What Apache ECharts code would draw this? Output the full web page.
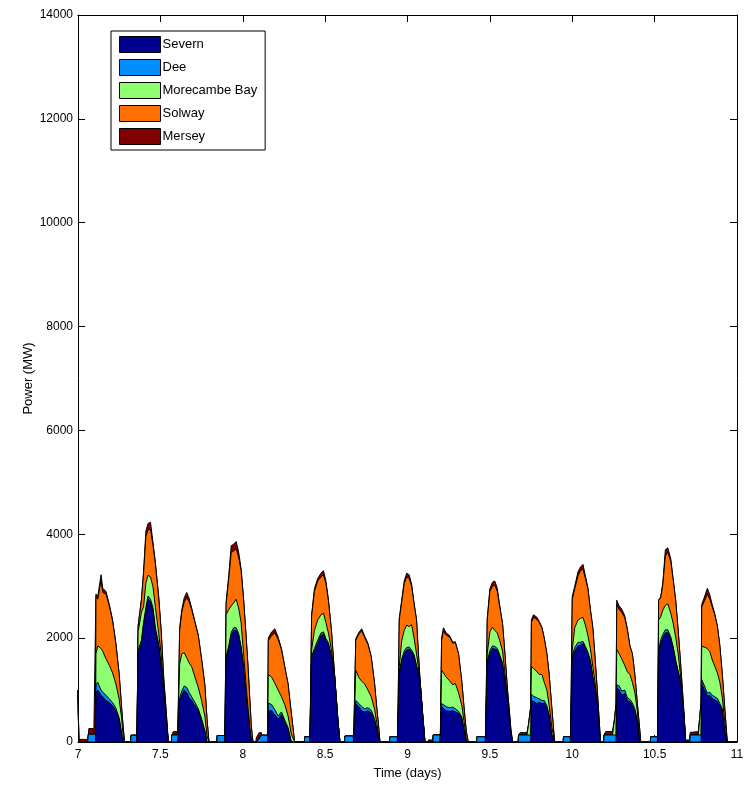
<!DOCTYPE html>
<html>
<head>
<meta charset="utf-8">
<title>Tidal power by site</title>
<script src="https://cdn.jsdelivr.net/npm/echarts@6/dist/echarts.min.js"></script>
<style>
  html, body { margin: 0; padding: 0; background: #ffffff; }
  #chart { width: 746px; height: 787px; }
</style>
</head>
<body>
<div id="chart"></div>
<script>
// Time of each sample, in days. One line per block: the small
// pre-generation bump, then the generation pulse that follows it.
const time = [
  7.000, 7.005, 7.010, 7.058, 7.062, 7.063, 7.066, 7.092, 7.096, 7.106,
  7.109, 7.120, 7.140, 7.150, 7.170, 7.190, 7.210, 7.230, 7.250, 7.265, 7.275, 7.283,
  7.320, 7.322, 7.356, 7.358,
  7.365, 7.372, 7.385, 7.398, 7.412, 7.425, 7.440, 7.455, 7.470, 7.490, 7.505, 7.520, 7.535, 7.548,
  7.567, 7.569, 7.579, 7.605, 7.607, 7.614,
  7.617, 7.630, 7.645, 7.660, 7.675, 7.690, 7.710, 7.730, 7.750, 7.770, 7.783, 7.795,
  7.843, 7.845, 7.890, 7.892, 7.896,
  7.899, 7.915, 7.930, 7.945, 7.960, 7.975, 7.990, 8.005, 8.020, 8.032, 8.042, 8.052, 8.062,
  8.080, 8.082, 8.100, 8.113, 8.115, 8.151,
  8.155, 8.175, 8.195, 8.215, 8.235, 8.255, 8.275, 8.295, 8.315,
  8.374, 8.376, 8.406, 8.408, 8.414,
  8.418, 8.435, 8.455, 8.475, 8.490, 8.505, 8.520, 8.538, 8.558, 8.578, 8.590,
  8.618, 8.620, 8.671, 8.673, 8.682,
  8.686, 8.705, 8.722, 8.740, 8.760, 8.780, 8.800, 8.813, 8.823, 8.833,
  8.891, 8.893, 8.938, 8.940, 8.946,
  8.950, 8.965, 8.980, 8.995, 9.010, 9.025, 9.040, 9.055, 9.065, 9.076, 9.090, 9.106,
  9.125, 9.127, 9.154, 9.156, 9.197, 9.199, 9.203,
  9.207, 9.218, 9.235, 9.255, 9.275, 9.290, 9.310, 9.330, 9.345, 9.357, 9.369,
  9.419, 9.421, 9.472, 9.474, 9.480,
  9.484, 9.500, 9.516, 9.530, 9.545, 9.560, 9.577, 9.592, 9.607, 9.618, 9.628, 9.638,
  9.672, 9.674, 9.684, 9.725, 9.735, 9.748,
  9.752, 9.765, 9.786, 9.800, 9.816, 9.830, 9.846, 9.860, 9.875, 9.893,
  9.945, 9.947, 9.988, 9.990, 9.996,
  10.000, 10.015, 10.035, 10.050, 10.065, 10.080, 10.095, 10.110, 10.125, 10.140, 10.155, 10.165, 10.172,
  10.191, 10.193, 10.203, 10.244, 10.255, 10.266,
  10.270, 10.285, 10.300, 10.318, 10.335, 10.350, 10.365, 10.380, 10.395, 10.408, 10.416,
  10.474, 10.476, 10.517, 10.519,
  10.524, 10.537, 10.550, 10.565, 10.580, 10.598, 10.613, 10.628, 10.643, 10.658, 10.673, 10.689,
  10.693, 10.695, 10.713, 10.716, 10.765, 10.772, 10.782,
  10.786, 10.800, 10.820, 10.835, 10.850, 10.865, 10.881, 10.896, 10.911, 10.925, 10.941, 11.000
];

// Power from each site, MW
const severn = [
  900, 0, 0, 0, 0, 0, 0, 0, 0, 0,
  950, 1000, 900, 870, 800, 760, 700, 600, 430, 150, 0, 0,
  0, 0, 0, 0,
  1700, 1770, 1900, 2250, 2540, 2760, 2700, 2540, 2150, 1850, 1450, 1000, 450, 0,
  0, 0, 0, 0, 0, 0,
  800, 900, 1000, 950, 850, 800, 700, 600, 420, 200, 0, 0,
  0, 0, 0, 0, 0,
  1600, 1800, 2050, 2150, 2150, 2050, 1800, 1450, 900, 550, 250, 0, 0,
  0, 0, 0, 0, 0, 0,
  600, 600, 520, 440, 530, 380, 250, 0, 0,
  0, 0, 0, 0, 0,
  1600, 1750, 1900, 2050, 2080, 1950, 1880, 1640, 1250, 400, 0,
  0, 0, 0, 0, 0,
  740, 680, 600, 580, 600, 560, 420, 250, 100, 0,
  0, 0, 0, 0, 0,
  1300, 1550, 1700, 1770, 1790, 1730, 1650, 1450, 1350, 1180, 600, 0,
  0, 0, 0, 0, 0, 0, 0,
  680, 650, 600, 590, 600, 580, 550, 450, 200, 0, 0,
  0, 0, 0, 0, 0,
  1500, 1700, 1800, 1790, 1770, 1650, 1500, 1150, 800, 480, 150, 0,
  0, 0, 0, 0, 0, 0,
  800, 780, 740, 760, 740, 750, 650, 500, 150, 0,
  0, 0, 0, 0, 0,
  1600, 1750, 1850, 1870, 1900, 1800, 1700, 1550, 1250, 1000, 650, 200, 0,
  0, 0, 0, 0, 0, 0,
  1050, 1000, 900, 930, 790, 780, 700, 600, 400, 0, 0,
  0, 0, 0, 0,
  1650, 1900, 2000, 2100, 2110, 1990, 1800, 1550, 1350, 1150, 700, 0,
  0, 0, 0, 0, 0, 0, 0,
  1120, 1020, 880, 900, 840, 810, 780, 700, 600, 200, 0, 0
];

const dee = [
  100, 0, 0, 0, 0, 150, 150, 150, 150, 150,
  150, 150, 100, 90, 100, 70, 60, 50, 30, 10, 0, 0,
  0, 130, 130, 0,
  80, 60, 60, 50, 50, 50, 50, 50, 40, 40, 30, 20, 10, 0,
  0, 135, 135, 135, 135, 135,
  50, 80, 80, 100, 100, 70, 60, 40, 30, 20, 0, 0,
  0, 125, 125, 0, 0,
  50, 50, 60, 50, 50, 40, 30, 20, 10, 5, 0, 0, 0,
  0, 0, 60, 130, 130, 130,
  150, 120, 100, 60, 50, 40, 30, 0, 0,
  0, 100, 100, 0, 0,
  50, 50, 60, 50, 40, 40, 30, 20, 5, 0, 0,
  0, 115, 115, 0, 0,
  60, 60, 80, 60, 60, 50, 30, 10, 0, 0,
  0, 100, 100, 0, 0,
  40, 50, 50, 50, 40, 40, 30, 20, 10, 0, 0, 0,
  0, 0, 0, 135, 135, 0, 0,
  60, 70, 80, 70, 70, 60, 40, 30, 10, 0, 0,
  0, 100, 100, 0, 0,
  50, 60, 50, 50, 30, 30, 20, 10, 0, 0, 0, 0,
  0, 135, 135, 135, 135, 135,
  120, 100, 110, 70, 60, 50, 50, 20, 0, 0,
  0, 100, 100, 0, 0,
  50, 70, 70, 50, 40, 40, 30, 20, 10, 5, 0, 0, 0,
  0, 135, 135, 135, 135, 135,
  50, 80, 80, 70, 60, 40, 50, 40, 20, 0, 0,
  0, 100, 100, 0,
  100, 70, 70, 60, 50, 30, 30, 20, 10, 5, 0, 0,
  0, 0, 0, 135, 135, 135, 135,
  80, 80, 60, 60, 60, 60, 60, 40, 40, 20, 0, 0
];

const morecambeBay = [
  0, 0, 0, 0, 0, 0, 0, 0, 0, 0,
  600, 700, 800, 790, 700, 650, 570, 470, 360, 290, 80, 0,
  0, 0, 0, 0,
  350, 420, 540, 300, 470, 400, 430, 400, 400, 200, 200, 80, 50, 0,
  0, 0, 0, 0, 0, 0,
  650, 720, 640, 570, 570, 580, 490, 410, 350, 280, 120, 0,
  0, 0, 0, 0, 0,
  800, 700, 510, 480, 550, 490, 470, 230, 200, 100, 60, 30, 0,
  0, 0, 0, 0, 0, 0,
  550, 530, 510, 500, 290, 300, 220, 150, 0,
  0, 0, 0, 0, 0,
  120, 350, 390, 350, 360, 310, 190, 120, 5, 0, 0,
  0, 0, 0, 0, 0,
  580, 500, 490, 480, 340, 260, 180, 120, 60, 0,
  0, 0, 0, 0, 0,
  110, 350, 400, 430, 390, 490, 320, 230, 100, 0, 0, 0,
  0, 0, 0, 0, 0, 0, 0,
  640, 610, 570, 520, 430, 490, 360, 220, 140, 50, 0,
  0, 0, 0, 0, 0,
  150, 360, 360, 310, 300, 270, 230, 150, 60, 30, 10, 0,
  0, 0, 0, 0, 200, 500,
  530, 540, 500, 470, 500, 350, 300, 180, 150, 0,
  0, 0, 0, 0, 0,
  120, 380, 430, 460, 460, 410, 320, 230, 190, 95, 50, 20, 0,
  0, 0, 0, 0, 250, 550,
  680, 620, 620, 480, 500, 480, 400, 310, 180, 100, 0,
  0, 0, 0, 0,
  600, 440, 470, 470, 500, 460, 450, 450, 340, 95, 30, 0,
  0, 0, 0, 0, 0, 250, 600,
  640, 730, 860, 780, 680, 590, 490, 410, 210, 180, 0, 0
];

const solway = [
  0, 0, 0, 0, 0, 0, 0, 0, 0, 0,
  1100, 900, 1320, 1130, 1250, 1140, 1000, 770, 480, 200, 170, 0,
  0, 0, 0, 0,
  100, 160, 230, 650, 900, 870, 920, 800, 830, 680, 450, 150, 90, 0,
  0, 0, 0, 0, 0, 0,
  650, 800, 980, 1160, 1180, 1100, 1050, 1000, 800, 600, 330, 0,
  0, 0, 0, 0, 0,
  200, 600, 1030, 1000, 970, 980, 1000, 1050, 950, 800, 560, 270, 0,
  0, 0, 0, 0, 0, 0,
  650, 800, 970, 980, 910, 730, 620, 400, 0,
  0, 0, 0, 0, 0,
  650, 750, 750, 730, 740, 750, 620, 380, 10, 0, 0,
  0, 0, 0, 0, 0,
  580, 840, 970, 890, 880, 770, 500, 300, 200, 0,
  0, 0, 0, 0, 0,
  900, 750, 900, 930, 930, 740, 660, 650, 310, 20, 20, 0,
  0, 0, 0, 0, 0, 0, 0,
  580, 800, 810, 840, 800, 790, 750, 450, 250, 150, 0,
  0, 0, 0, 0, 0,
  650, 780, 790, 870, 800, 650, 530, 360, 140, 100, 70, 0,
  0, 0, 0, 0, 0, 50,
  850, 980, 1010, 1000, 900, 850, 700, 600, 400, 0,
  0, 0, 0, 0, 0,
  980, 750, 850, 920, 930, 900, 900, 750, 750, 450, 150, 120, 0,
  0, 0, 0, 0, 0, 50,
  870, 850, 900, 920, 800, 550, 550, 350, 150, 200, 0,
  0, 0, 0, 0,
  380, 370, 500, 950, 1000, 1000, 830, 700, 450, 250, 70, 0,
  0, 0, 0, 0, 0, 0, 50,
  760, 870, 1050, 1010, 1020, 990, 900, 700, 450, 280, 0, 0
];

const mersey = [
  0, 0, 50, 50, 0, 0, 110, 110, 0, 0,
  50, 50, 100, 80, 50, 30, 20, 10, 0, 0, 0, 0,
  0, 0, 0, 0,
  10, 10, 20, 30, 100, 130, 130, 60, 30, 30, 10, 0, 0, 0,
  0, 0, 65, 65, 0, 0,
  50, 50, 80, 100, 60, 30, 20, 10, 0, 0, 0, 0,
  0, 0, 0, 0, 0,
  50, 50, 130, 130, 140, 100, 40, 10, 0, 0, 0, 0, 0,
  0, 80, 120, 50, 0, 0,
  50, 70, 80, 40, 20, 0, 0, 0, 0,
  0, 0, 0, 0, 0,
  30, 50, 50, 70, 80, 50, 20, 0, 0, 0, 0,
  0, 0, 0, 0, 0,
  30, 30, 40, 30, 20, 0, 0, 0, 0, 0,
  0, 0, 0, 0, 0,
  30, 40, 50, 70, 70, 40, 10, 0, 0, 0, 0, 0,
  0, 40, 40, 0, 0, 0, 0,
  40, 70, 40, 30, 20, 10, 0, 0, 0, 0, 0,
  0, 0, 0, 0, 0,
  30, 50, 80, 80, 60, 20, 0, 0, 0, 0, 0, 0,
  0, 0, 45, 45, 20, 0,
  50, 50, 40, 20, 10, 0, 0, 0, 0, 0,
  0, 0, 0, 0, 0,
  50, 50, 80, 70, 90, 50, 20, 0, 0, 0, 0, 0, 0,
  0, 0, 65, 65, 30, 0,
  80, 70, 60, 40, 20, 0, 0, 0, 0, 0, 0,
  0, 0, 0, 0,
  0, 20, 30, 120, 80, 50, 20, 0, 0, 0, 0, 0,
  0, 40, 40, 50, 65, 30, 0,
  50, 70, 110, 80, 40, 20, 0, 0, 0, 0, 0, 0
];

const siteNames = ['Severn', 'Dee', 'Morecambe Bay', 'Solway', 'Mersey'];
const siteColors = ['#00008f', '#008fff', '#8fff70', '#ff7000', '#800000'];
const xTickValues = [7, 7.5, 8, 8.5, 9, 9.5, 10, 10.5, 11];
const yTickValues = [0, 2000, 4000, 6000, 8000, 10000, 12000, 14000];

const siteValues = [severn, dee, morecambeBay, solway, mersey];
siteValues.forEach((arr, k) => {
  if (arr.length !== time.length) console.error(siteNames[k] + ' length ' + arr.length + ' != ' + time.length);
});

// Running totals: each layer is drawn from zero up to the sum of itself
// and every layer beneath it, lower layers painted over upper ones.
const layerTops = [];
let running = time.map(() => 0);
siteValues.forEach(arr => {
  running = running.map((v, i) => v + arr[i]);
  layerTops.push(running);
});

const FONT = "'Liberation Sans', Arial, sans-serif";
const xStep = xTickValues[1] - xTickValues[0];
const yStep = yTickValues[1] - yTickValues[0];

const axisCommon = {
  axisLine: { show: true, onZero: false, lineStyle: { color: '#000', width: 1 } },
  axisTick: { show: true, inside: true, length: 7, lineStyle: { color: '#000', width: 1 } },
  splitLine: { show: false }
};

const chart = echarts.init(document.getElementById('chart'), null, { renderer: 'canvas' });

chart.setOption({
  animation: false,
  backgroundColor: '#ffffff',
  grid: { left: 78, right: 9, top: 15, bottom: 45, outerBoundsMode: 'none' },
  legend: {
    orient: 'vertical',
    left: 111,
    top: 31,
    padding: [5, 8, 5, 8],
    itemWidth: 41,
    itemHeight: 16,
    itemGap: 6,
    icon: 'rect',
    backgroundColor: '#ffffff',
    borderColor: '#000',
    borderWidth: 1,
    borderRadius: 0,
    selectedMode: false,
    textStyle: { color: '#000', fontSize: 13, fontFamily: FONT, padding: [0, 0, 0, -3] },
    data: siteNames.map((name, k) => ({
      name: name,
      itemStyle: { color: siteColors[k], borderColor: '#000', borderWidth: 1 }
    }))
  },
  xAxis: [
    Object.assign({}, axisCommon, {
      type: 'value', gridIndex: 0, position: 'bottom',
      min: xTickValues[0], max: xTickValues[xTickValues.length - 1], interval: xStep,
      axisLabel: { color: '#000', fontSize: 12, fontFamily: FONT, margin: 7,
        formatter: v => String(v) },
      name: 'Time (days)', nameLocation: 'middle', nameGap: 25, nameMoveOverlap: false,
      nameTextStyle: { color: '#000', fontSize: 13, fontFamily: FONT }
    }),
    Object.assign({}, axisCommon, {
      type: 'value', gridIndex: 0, position: 'top',
      min: xTickValues[0], max: xTickValues[xTickValues.length - 1], interval: xStep,
      axisLabel: { show: false }
    })
  ],
  yAxis: [
    Object.assign({}, axisCommon, {
      type: 'value', gridIndex: 0, position: 'left',
      min: yTickValues[0], max: yTickValues[yTickValues.length - 1], interval: yStep,
      axisLabel: { color: '#000', fontSize: 12, fontFamily: FONT, margin: 5,
        formatter: v => String(v) },
      name: 'Power (MW)', nameLocation: 'middle', nameGap: 43, nameRotate: 90, nameMoveOverlap: false,
      nameTextStyle: { color: '#000', fontSize: 13, fontFamily: FONT }
    }),
    Object.assign({}, axisCommon, {
      type: 'value', gridIndex: 0, position: 'right',
      min: yTickValues[0], max: yTickValues[yTickValues.length - 1], interval: yStep,
      axisLabel: { show: false }
    })
  ],
  series: siteNames.map((name, k) => ({
    name: name,
    type: 'line',
    xAxisIndex: 0,
    yAxisIndex: 0,
    z: 10 - k,
    data: time.map((t, i) => [t, layerTops[k][i]]),
    showSymbol: false,
    symbol: 'none',
    smooth: false,
    clip: true,
    lineStyle: { color: '#000', width: 1 },
    itemStyle: { color: siteColors[k] },
    areaStyle: { color: siteColors[k], opacity: 1 },
    emphasis: { disabled: true }
  }))
});
</script>
</body>
</html>
